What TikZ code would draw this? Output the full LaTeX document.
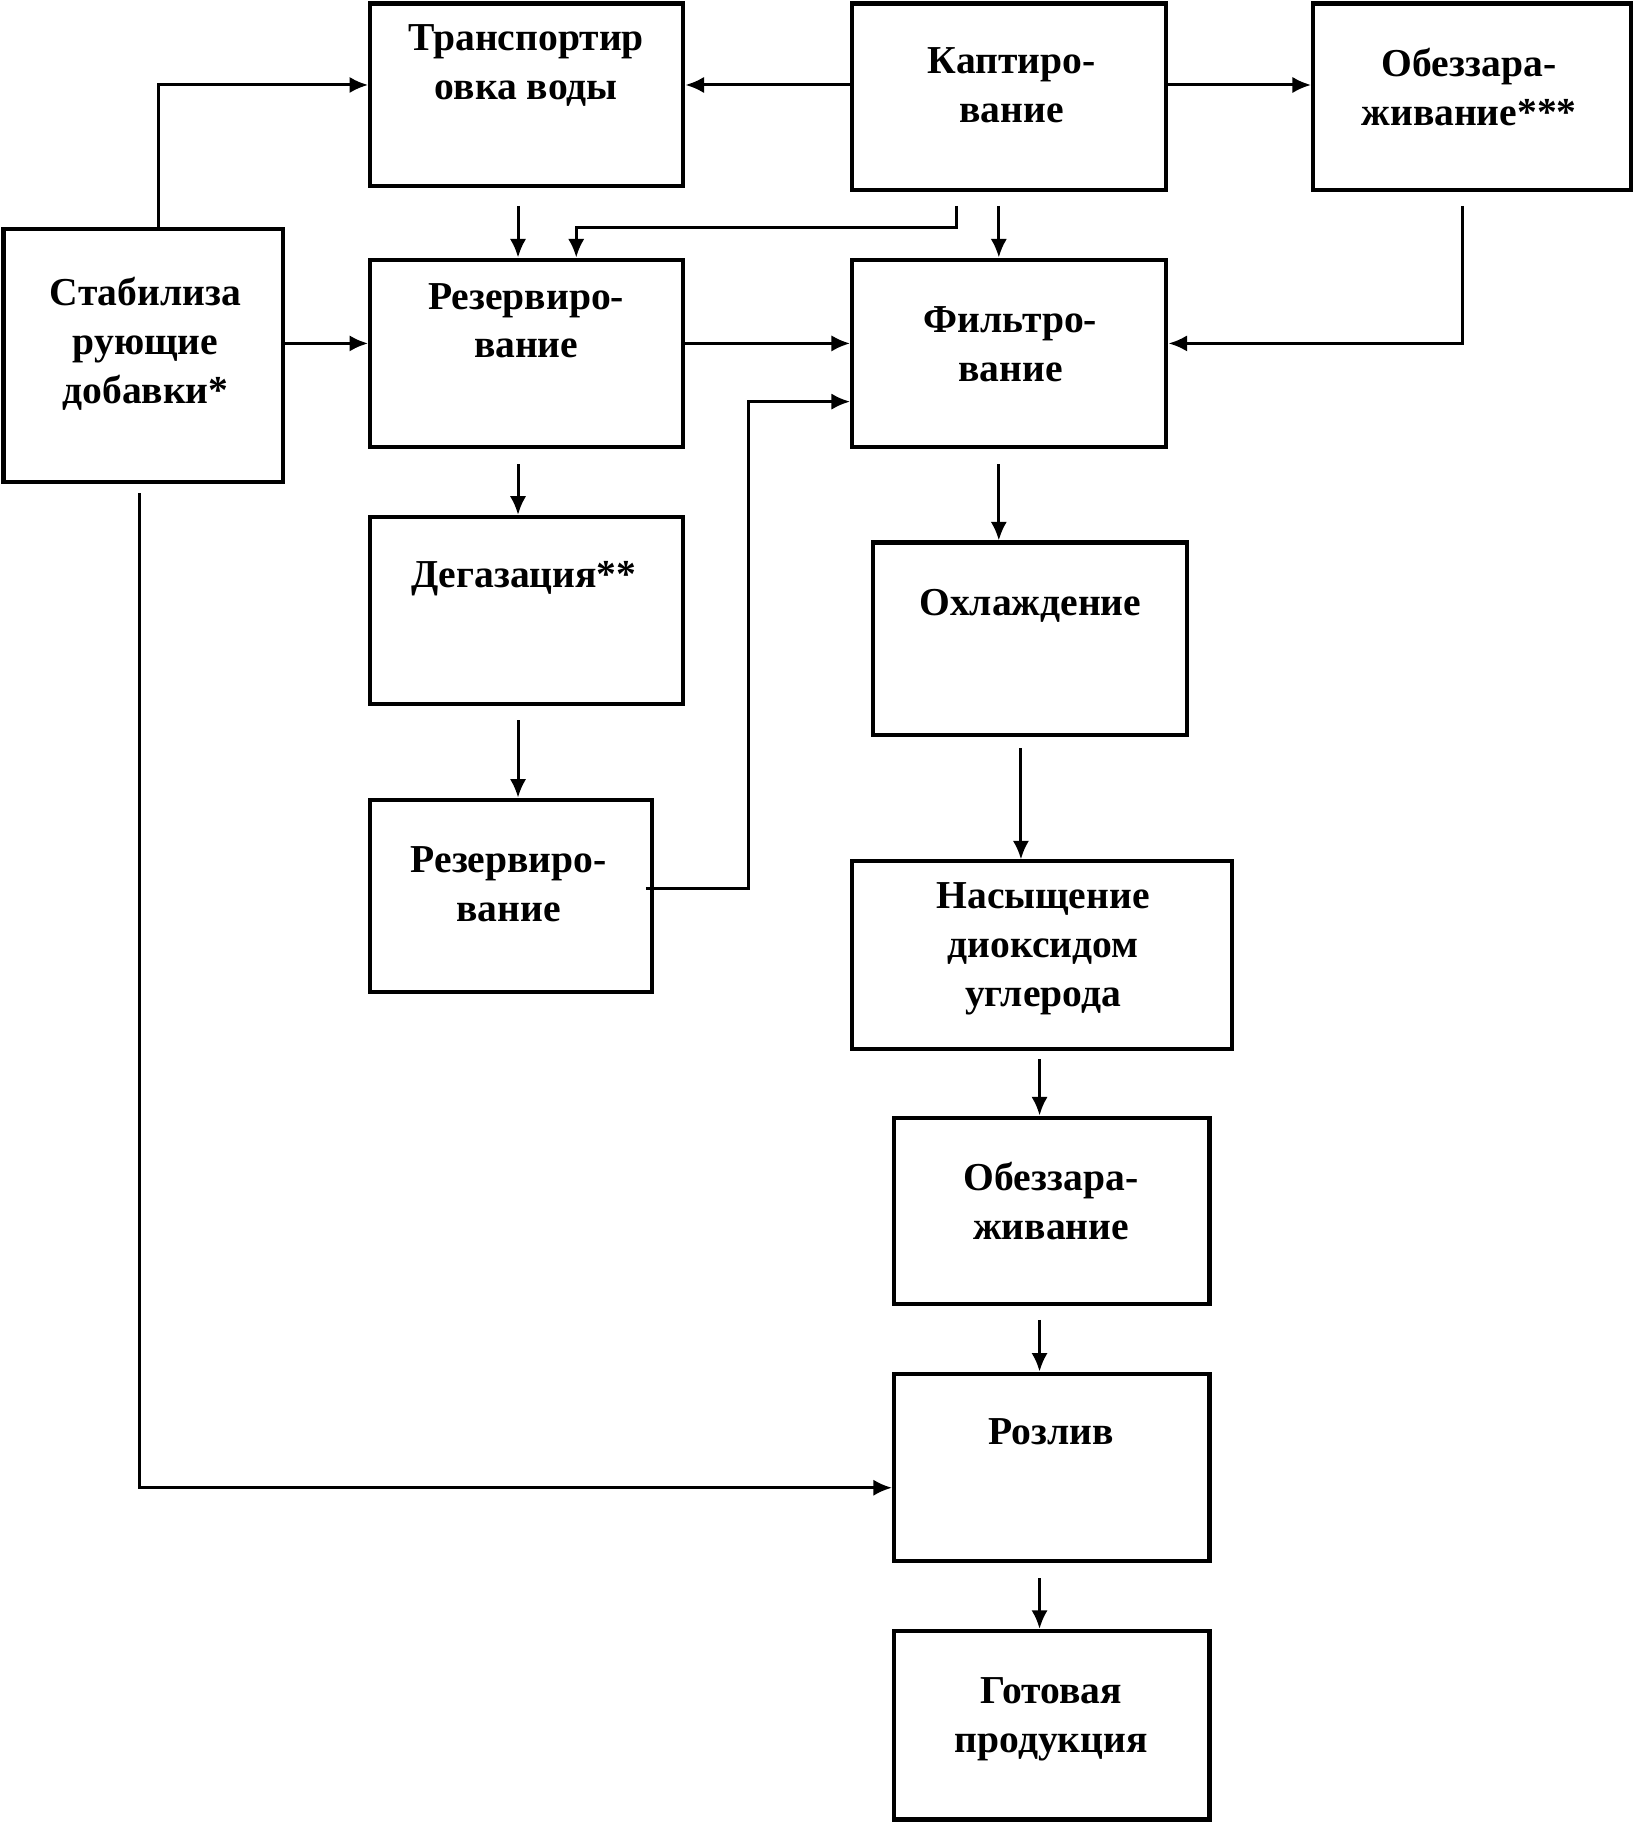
\documentclass[tikz,border=0pt]{standalone}
\usepackage{fontspec}
\setmainfont{Liberation Serif}
\usetikzlibrary{arrows.meta,calc}
\tikzset{
  box/.style={draw, line width=3.5pt, inner sep=0pt, rectangle},
  txt/.style={font=\fontsize{34}{42}\selectfont\bfseries, align=center, inner sep=0pt, anchor=north},
  arr/.style={line width=2.6pt, -{Latex[length=16pt,width=14pt]}}
}
\begin{document}
\begin{tikzpicture}[x=1pt,y=-1pt]
\useasboundingbox (0,0) rectangle (1405,1566);
% boxes
\node[box, minimum width=269pt, minimum height=157pt] (trans) at (452.5,81.5) {};
\node[box, minimum width=270pt, minimum height=160pt] (kapt) at (867,83) {};
\node[box, minimum width=273pt, minimum height=160pt] (obez3) at (1264.5,83) {};
\node[box, minimum width=240pt, minimum height=217pt] (stab) at (123,305.5) {};
\node[box, minimum width=269pt, minimum height=161pt] (rez1) at (452.5,303.5) {};
\node[box, minimum width=270pt, minimum height=161pt] (filt) at (867,303.5) {};
\node[box, minimum width=269pt, minimum height=161pt] (degaz) at (452.5,524.5) {};
\node[box, minimum width=270pt, minimum height=165pt] (ohl) at (885,548.5) {};
\node[box, minimum width=242pt, minimum height=165pt] (rez2) at (439,769.5) {};
\node[box, minimum width=326pt, minimum height=161pt] (nas) at (895,820.5) {};
\node[box, minimum width=271pt, minimum height=160pt] (obez) at (903.5,1040) {};
\node[box, minimum width=271pt, minimum height=161pt] (rozl) at (903.5,1260.5) {};
\node[box, minimum width=271pt, minimum height=162pt] (got) at (903.5,1482) {};
% texts
\node[txt] (transT) at (452,21) {Транспортир\\овка воды};
\node[txt] (kaptT) at (869,41) {Каптиро-\\вание};
\node[txt] (obez3T) at (1262,41) {Обеззара-\\живание***};
\node[txt] (stabT) at (125,238) {Стабилиза\\рующие\\добавки*};
\node[txt] (rez1T) at (452,243) {Резервиро-\\вание};
\node[txt] (filtT) at (868,263) {Фильтро-\\вание};
\node[txt] (degazT) at (450,482) {Дегазация**};
\node[txt] (ohlT) at (885,506) {Охлаждение};
\node[txt] (rez2T) at (437,727) {Резервиро-\\вание};
\node[txt] (nasT) at (896,758) {Насыщение\\диоксидом\\углерода};
\node[txt] (obezT) at (903,998) {Обеззара-\\живание};
\node[txt] (rozlT) at (903,1218) {Розлив};
\node[txt] (gotT) at (903,1441) {Готовая\\продукция};
% connectors
\coordinate (yA) at (0,73);
\draw[arr] (kapt.west |- yA) -- (trans.east |- yA);
\draw[arr] ([xshift=13pt]stab.north) |- (trans.west |- yA);
\draw[arr] (kapt.east |- yA) -- (obez3.west |- yA);
\draw[arr] ([xshift=-7.5pt,yshift=-15pt]trans.south) -- ([xshift=-7.5pt]rez1.north);
\draw[arr] ([xshift=-45pt,yshift=-12pt]kapt.south) |- ([xshift=42.5pt,yshift=26pt]rez1.north) -- ([xshift=42.5pt]rez1.north);
\draw[arr] ([xshift=-9pt,yshift=-12pt]kapt.south) -- ([xshift=-9pt]filt.north);
\draw[arr] ([xshift=-8.5pt,yshift=-12pt]obez3.south) |- ([yshift=8.5pt]filt.east);
\draw[arr] ([yshift=10.5pt]stab.east) -- ([yshift=8.5pt]rez1.west);
\draw[arr] ([yshift=8.5pt]rez1.east) -- ([yshift=8.5pt]filt.west);
\draw[arr] ([xshift=-7pt,yshift=6.5pt]rez2.east) -- ++(88,0) |- ([yshift=-41.5pt]filt.west);
\draw[arr] ([xshift=-7.5pt,yshift=-13pt]rez1.south) -- ([xshift=-7.5pt]degaz.north);
\draw[arr] ([xshift=-7.5pt,yshift=-12pt]degaz.south) -- ([xshift=6pt]rez2.north);
\draw[arr] ([xshift=-9pt,yshift=-13pt]filt.south) -- ([xshift=-27pt]ohl.north);
\draw[arr] ([xshift=-8pt,yshift=-10pt]ohl.south) -- ([xshift=-18pt]nas.north);
\draw[arr] ([xshift=-2pt,yshift=-7pt]nas.south) -- ([xshift=-10.5pt]obez.north);
\draw[arr] ([xshift=-10.5pt,yshift=-12pt]obez.south) -- ([xshift=-10.5pt]rozl.north);
\draw[arr] ([xshift=-10.5pt,yshift=-13pt]rozl.south) -- ([xshift=-10.5pt]got.north);
\draw[arr] ([xshift=-3pt,yshift=-8pt]stab.south) |- ([yshift=-17.5pt]rozl.west);
\end{tikzpicture}
\end{document}
